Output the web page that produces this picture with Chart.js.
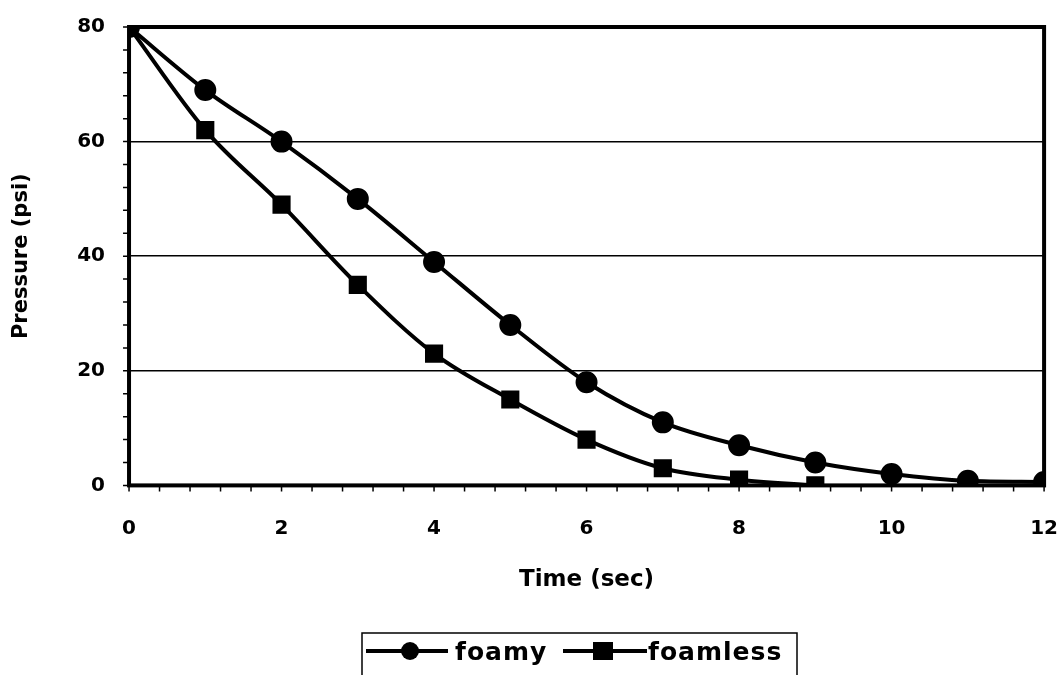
<!DOCTYPE html>
<html>
<head>
<meta charset="utf-8">
<script src="https://cdn.jsdelivr.net/npm/chart.js@4.4.1/dist/chart.umd.min.js"></script>
<style>
  html, body { margin: 0; padding: 0; background: #fff; }
  #wrap { width: 1061px; height: 675px; position: relative; }
</style>
</head>
<body>
<div id="wrap"><canvas id="chart" width="1061" height="675"></canvas></div>
<script>
const timeSec = [0, 1, 2, 3, 4, 5, 6, 7, 8, 9, 10, 11, 12];
const foamy = [80, 69, 60, 50, 39, 28, 18, 11, 7, 4, 2, 0.8, 0.6];
const foamless = [80, 62, 49, 35, 23, 15, 8, 3, 1, 0];
const seriesNames = ["foamy", "foamless"];

const fontFamily = "'DejaVu Sans', Verdana, sans-serif";

function toPoints(values) {
  return values.map((v, i) => ({ x: timeSec[i], y: v }));
}

// frame, minor ticks and legend box
const decorations = {
  id: "decorations",
  afterDraw(chart) {
    const ctx = chart.ctx;
    const a = chart.chartArea;
    const xs = chart.scales.x;
    const ys = chart.scales.y;
    ctx.save();
    ctx.strokeStyle = "#000";
    ctx.lineWidth = 4;
    ctx.strokeRect(a.left, a.top, a.right - a.left, a.bottom - a.top);

    // minor ticks
    ctx.lineWidth = 1.5;
    ctx.beginPath();
    for (let v = 0; v <= 80; v += 4) {
      const y = ys.getPixelForValue(v);
      ctx.moveTo(a.left - 6, y);
      ctx.lineTo(a.left, y);
    }
    for (let v = 0; v <= 12.001; v += 0.4) {
      const x = xs.getPixelForValue(v);
      ctx.moveTo(x, a.bottom);
      ctx.lineTo(x, a.bottom + 6);
    }
    ctx.stroke();

    // legend
    const bx = 362, by = 633, bw = 435, bh = 50;
    ctx.lineWidth = 1.5;
    ctx.strokeRect(bx, by, bw, bh);
    const cy = 651;
    ctx.lineWidth = 4;
    ctx.font = "bold 25px " + fontFamily;
    ctx.letterSpacing = "1px";
    ctx.fillStyle = "#000";
    ctx.textBaseline = "middle";

    ctx.beginPath();
    ctx.moveTo(366, cy);
    ctx.lineTo(448, cy);
    ctx.stroke();
    ctx.beginPath();
    ctx.arc(410, cy, 9, 0, Math.PI * 2);
    ctx.fill();
    ctx.fillText(seriesNames[0], 455, cy + 2);

    ctx.beginPath();
    ctx.moveTo(563, cy);
    ctx.lineTo(647, cy);
    ctx.stroke();
    ctx.fillRect(593, cy - 9, 20, 18);
    ctx.fillText(seriesNames[1], 648, cy + 2);
    ctx.restore();
  }
};

new Chart(document.getElementById("chart"), {
  type: "scatter",
  data: {
    datasets: [
      {
        label: seriesNames[0],
        data: toPoints(foamy),
        showLine: true,
        borderColor: "#000",
        backgroundColor: "#000",
        borderWidth: 4,
        pointStyle: "circle",
        pointRadius: 9,
        cubicInterpolationMode: "monotone",
      },
      {
        label: seriesNames[1],
        data: toPoints(foamless),
        showLine: true,
        borderColor: "#000",
        backgroundColor: "#000",
        borderWidth: 4,
        pointStyle: "rect",
        pointRadius: 10,
        cubicInterpolationMode: "monotone",
      },
    ],
  },
  options: {
    responsive: false,
    animation: false,
    layout: { padding: { left: 5, right: 2, top: 27, bottom: 81 } },
    plugins: {
      legend: { display: false },
      tooltip: { enabled: false },
    },
    scales: {
      x: {
        type: "linear",
        min: 0,
        max: 12,
        ticks: {
          stepSize: 2,
          color: "#000",
          padding: 3,
          font: { size: 20, weight: "bold", family: fontFamily },
        },
        grid: {
          display: true,
          drawOnChartArea: false,
          tickLength: 28,
          tickColor: "transparent",
        },
        border: { display: false },
        title: {
          display: true,
          text: "Time (sec)",
          color: "#000",
          padding: { top: 23, bottom: 0 },
          font: { size: 23, weight: "bold", family: fontFamily },
        },
      },
      y: {
        min: 0,
        max: 80,
        ticks: {
          stepSize: 20,
          color: "#000",
          padding: 2,
          font: { size: 20, weight: "bold", family: fontFamily },
        },
        grid: {
          color: "#000",
          lineWidth: 1.5,
          tickLength: 22,
          tickColor: "transparent",
        },
        border: { display: false },
        title: {
          display: true,
          text: "Pressure (psi)",
          color: "#000",
          padding: { bottom: 41 },
          font: { size: 21, weight: "bold", family: fontFamily },
        },
      },
    },
  },
  plugins: [decorations],
});
</script>
</body>
</html>
